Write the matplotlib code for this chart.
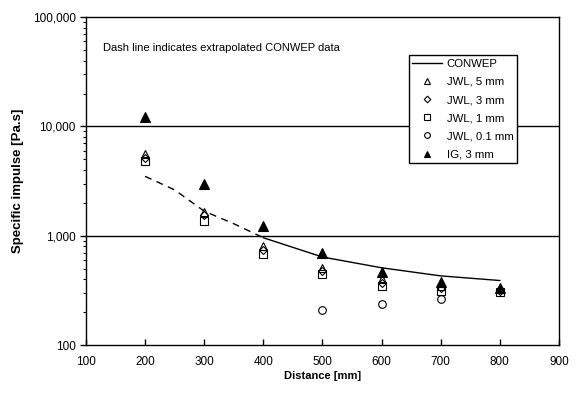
import matplotlib
matplotlib.use("Agg")
import matplotlib.pyplot as plt
from matplotlib.ticker import FixedLocator, FuncFormatter, LogLocator, NullFormatter

plt.rcParams['font.family'] = ['Liberation Sans', 'DejaVu Sans']

# CONWEP curve (dashed = extrapolated, solid = CONWEP range)
conwep_dash_x = [200, 250, 300, 350, 400]
conwep_dash_y = [3500, 2630, 1680, 1290, 960]
conwep_x = [400, 500, 600, 700, 800]
conwep_y = [960, 640, 510, 430, 390]

jwl5_x = [200, 300, 400, 500, 600, 700, 800]
jwl5_y = [5600, 1650, 800, 510, 400, 350, 325]
jwl3_x = [200, 300, 400, 500, 600, 700, 800]
jwl3_y = [5100, 1540, 740, 480, 370, 330, 315]
jwl1_x = [200, 300, 400, 500, 600, 700, 800]
jwl1_y = [4850, 1380, 680, 444, 345, 310, 305]
jwl01_x = [500, 600, 700]
jwl01_y = [208, 237, 263]
ig_x = [200, 300, 400, 500, 600, 700, 800]
ig_y = [12200, 3000, 1230, 690, 463, 375, 330]

x_ticks = [100, 200, 300, 400, 500, 600, 700, 800, 900]
y_ticks = [100, 1000, 10000, 100000]

fig = plt.figure(figsize=(5.81, 3.99), dpi=100)
ax = fig.add_axes([0.148, 0.135, 0.814, 0.822])

ax.set_yscale('log')
ax.set_xlim(100, 900)
ax.set_ylim(100, 100000)

for yv in [1000, 10000]:
    ax.axhline(yv, color='black', lw=1.0, zorder=1)

ax.plot(conwep_dash_x, conwep_dash_y, color='black', lw=1.0, ls=(0, (5, 4)), zorder=2)
ax.plot(conwep_x, conwep_y, color='black', lw=1.0, label='CONWEP', zorder=2)

ms = 6
ax.plot(jwl5_x, jwl5_y, ls='none', marker='^', mfc='none', mec='black', mew=0.8, ms=ms, label='JWL, 5 mm', zorder=3)
ax.plot(jwl3_x, jwl3_y, ls='none', marker='D', mfc='none', mec='black', mew=0.8, ms=ms - 1.5, label='JWL, 3 mm', zorder=3)
ax.plot(jwl1_x, jwl1_y, ls='none', marker='s', mfc='none', mec='black', mew=0.8, ms=ms - 0.5, label='JWL, 1 mm', zorder=3)
ax.plot(jwl01_x, jwl01_y, ls='none', marker='o', mfc='none', mec='black', mew=0.8, ms=ms - 0.5, label='JWL, 0.1 mm', zorder=3)
ax.plot(ig_x, ig_y, ls='none', marker='^', mfc='black', mec='black', mew=0.8, ms=ms + 0.5, label='IG, 3 mm', zorder=4)

ax.xaxis.set_major_locator(FixedLocator(x_ticks))
ax.yaxis.set_major_locator(FixedLocator(y_ticks))
ax.yaxis.set_minor_locator(LogLocator(base=10, subs=range(2, 10)))
ax.yaxis.set_minor_formatter(NullFormatter())
ax.yaxis.set_major_formatter(FuncFormatter(lambda v, p: f"{int(round(v)):,}"))

ax.tick_params(axis='x', direction='in', length=4, width=1, labelsize=8.5, pad=8)
ax.tick_params(axis='y', which='major', direction='out', length=4, width=1, labelsize=8.5)
ax.tick_params(axis='y', which='minor', direction='out', length=2, width=0.8)

for s in ax.spines.values():
    s.set_linewidth(1.0)
    s.set_color('black')

ax.set_xlabel('Distance [mm]', fontsize=8, fontweight='bold', labelpad=2)
ax.set_ylabel('Specific impulse [Pa.s]', fontsize=9.5, fontweight='bold', labelpad=6)

ax.text(0.035, 0.905, 'Dash line indicates extrapolated CONWEP data', transform=ax.transAxes,
        fontsize=8, ha='left', va='center')

leg = ax.legend(loc='upper left', bbox_to_anchor=(0.683, 0.884), fontsize=8.2, frameon=True,
                fancybox=False, edgecolor='black', framealpha=1, handlelength=2.6,
                borderpad=0.3, labelspacing=0.72, handletextpad=0.4, markerscale=0.75,
                borderaxespad=0)
leg.get_frame().set_linewidth(1.0)

fig.savefig('out.png', dpi=100)
